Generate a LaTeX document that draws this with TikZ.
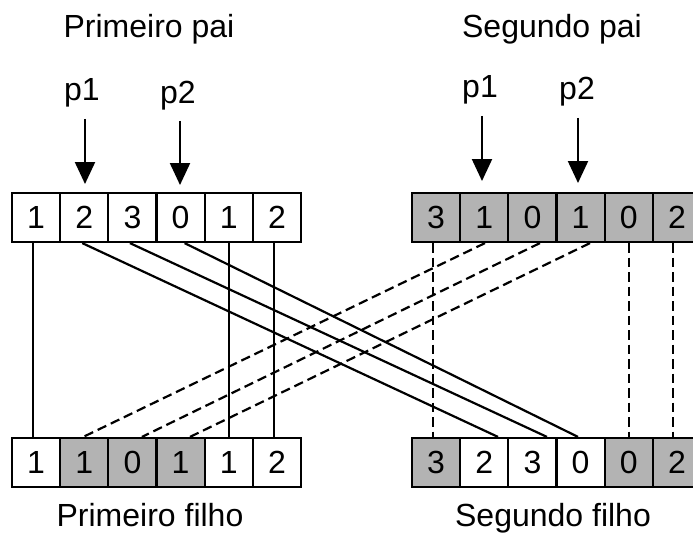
\documentclass[tikz,border=0pt]{standalone}
\usepackage{fontspec}
\setmainfont{Liberation Sans}
\usetikzlibrary{arrows.meta,calc}
\definecolor{genegray}{RGB}{179,179,179}
\tikzset{
  cell/.style={draw=black, line width=2.2pt, minimum width=48.17pt, minimum height=49pt,
    inner sep=0pt, font=\fontsize{32}{38}\selectfont, anchor=center},
  picked/.style={cell, fill=genegray},
  plain/.style={cell, fill=white},
  title/.style={font=\fontsize{32}{38}\selectfont, anchor=base, inner sep=0pt},
  cut/.style={font=\fontsize{32}{38}\selectfont, anchor=base, inner sep=0pt},
  cutarrow/.style={line width=2.2pt, -{Triangle[width=20pt,length=22pt]}},
  keep/.style={line width=2.2pt},
  swap/.style={line width=2.2pt, dash pattern=on 9.5pt off 5pt},
}
\begin{document}
\begin{tikzpicture}[x=1pt, y=-1pt]
\useasboundingbox (0,0) rectangle (693,559);

% chromosomes
\foreach \v/\s [count=\i] in {1/plain,2/plain,3/plain,0/plain,1/plain,2/plain}
  \node[\s] (a\i) at ({12+48.17*(\i-0.5)},217.5) {\v};
\foreach \v/\s [count=\i] in {3/picked,1/picked,0/picked,1/picked,0/picked,2/picked}
  \node[\s] (b\i) at ({412+48.17*(\i-0.5)},217.5) {\v};
\foreach \v/\s [count=\i] in {1/plain,1/picked,0/picked,1/picked,1/plain,2/plain}
  \node[\s] (c\i) at ({12+48.17*(\i-0.5)},462.5) {\v};
\foreach \v/\s [count=\i] in {3/picked,2/plain,3/plain,0/plain,0/picked,2/picked}
  \node[\s] (d\i) at ({412+48.17*(\i-0.5)},462.5) {\v};

% titles
\node[title] (t1) at (149,38) {Primeiro pai};
\node[title] (t2) at (552,38) {Segundo pai};
\node[title] (t3) at (150,526) {Primeiro filho};
\node[title] (t4) at (553,526) {Segundo filho};

% cut points
\node[cut] (l1) at (82,101) {p1};
\node[cut] (l2) at (178,104) {p2};
\node[cut] (r1) at (480,98) {p1};
\node[cut] (r2) at (577,100) {p2};
\coordinate (l1s) at (85,119);  \coordinate (l1e) at (85,184);
\coordinate (l2s) at (180,121); \coordinate (l2e) at (180,185);
\coordinate (r1s) at (482,116); \coordinate (r1e) at (482,181);
\coordinate (r2s) at (578,118); \coordinate (r2e) at (578,183);
\draw[cutarrow] (l1s) -- (l1e);
\draw[cutarrow] (l2s) -- (l2e);
\draw[cutarrow] (r1s) -- (r1e);
\draw[cutarrow] (r2s) -- (r2e);

% connectors: first parent (solid)
\draw[keep] ([xshift=-3pt]a1.south) -- ([xshift=-3pt]c1.north);
\draw[keep] ([xshift=-2pt]a2.south) -- ([xshift=13.7pt]d2.north);
\draw[keep] ([xshift=-2.5pt]a3.south) -- ([xshift=14.5pt]d3.north);
\draw[keep] ([xshift=4pt]a4.south) -- ([xshift=-2.6pt]d4.north);
\draw[keep] (a5.south) -- (c5.north);
\draw[keep] ([xshift=-3pt]a6.south) -- ([xshift=-3pt]c6.north);

% connectors: second parent (dashed)
\draw[swap] ([xshift=-3pt]b1.south) -- ([xshift=-3pt]d1.north);
\draw[swap] ([xshift=0.7pt]b2.south) -- ([xshift=-1pt]c2.north);
\draw[swap] ([xshift=7.5pt]b3.south) -- ([xshift=9.5pt]c3.north);
\draw[swap] ([xshift=9.4pt]b4.south) -- ([xshift=9.4pt]c4.north);
\draw[swap] (b5.south) -- (d5.north);
\draw[swap] ([xshift=-4pt]b6.south) -- ([xshift=-4pt]d6.north);
\end{tikzpicture}
\end{document}
